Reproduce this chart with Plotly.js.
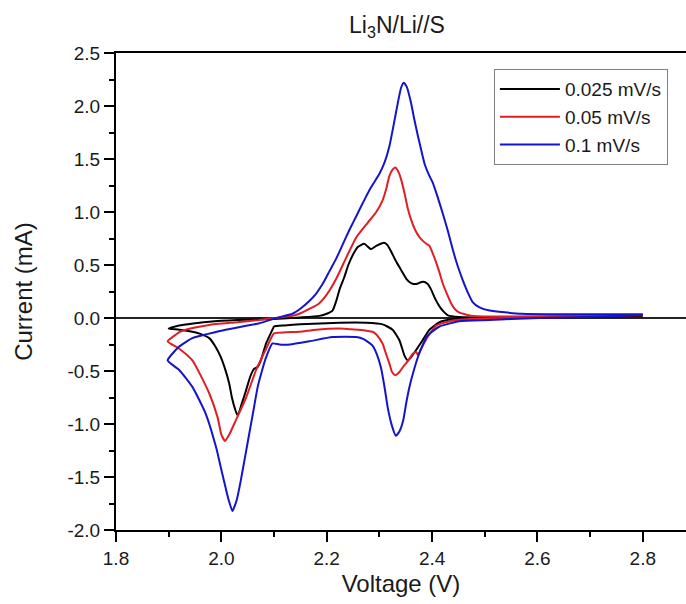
<!DOCTYPE html>
<html>
<head>
<meta charset="utf-8">
<script src="https://cdn.plot.ly/plotly-3.0.1.min.js"></script>
<style>html,body{margin:0;padding:0;overflow:hidden;background:#fff}</style>
</head>
<body>
<div id="chart" style="width:686px;height:604px"></div>
<script>
// Series names
const seriesNames = ["0.025 mV/s", "0.05 mV/s", "0.1 mV/s"];

// 0.025 mV/s : cathodic sweep (2.8 -> 1.9) followed by anodic sweep (1.9 -> 2.8)
const v025 = [2.80,2.70,2.60,2.50,2.44,2.414,2.395,2.382,2.370,2.360,2.354,2.348,2.338,2.325,2.306,2.275,2.224,2.15,2.12,2.10,2.097,2.085,2.075,2.069,2.062,2.055,2.047,2.038,2.031,2.026,2.020,2.015,2.007,1.999,1.99,1.977,1.96,1.945,1.92,1.90,
  1.92,1.95,1.977,2.03,2.10,2.15,2.186,2.20,2.211,2.218,2.225,2.233,2.241,2.249,2.259,2.271,2.284,2.294,2.309,2.315,2.322,2.330,2.338,2.345,2.351,2.360,2.370,2.380,2.386,2.392,2.398,2.405,2.414,2.422,2.430,2.452,2.50,2.60,2.70,2.80];
const i025 = [0.02,0.015,0.01,0.0,-0.01,-0.04,-0.11,-0.21,-0.30,-0.37,-0.40,-0.36,-0.21,-0.11,-0.06,-0.045,-0.045,-0.06,-0.07,-0.08,-0.11,-0.24,-0.40,-0.46,-0.48,-0.55,-0.68,-0.82,-0.92,-0.86,-0.75,-0.62,-0.48,-0.37,-0.28,-0.19,-0.15,-0.13,-0.11,-0.10,
  -0.07,-0.05,-0.035,-0.02,-0.01,0.005,0.02,0.04,0.07,0.16,0.28,0.38,0.50,0.59,0.67,0.70,0.65,0.68,0.71,0.69,0.63,0.55,0.48,0.42,0.37,0.33,0.32,0.34,0.34,0.32,0.27,0.19,0.11,0.06,0.025,0.01,0.005,0.01,0.015,0.02];

// 0.05 mV/s
const v05 = [2.80,2.70,2.60,2.53,2.47,2.433,2.408,2.398,2.389,2.378,2.373,2.370,2.363,2.355,2.345,2.338,2.330,2.324,2.319,2.312,2.306,2.295,2.287,2.26,2.243,2.224,2.18,2.148,2.122,2.10,2.085,2.066,2.047,2.027,2.015,2.007,2.00,1.993,1.977,1.945,1.92,1.898,
  1.91,1.921,1.95,1.977,2.03,2.07,2.10,2.135,2.148,2.167,2.186,2.20,2.218,2.237,2.256,2.278,2.294,2.306,2.313,2.319,2.325,2.330,2.336,2.341,2.348,2.354,2.36,2.367,2.375,2.382,2.389,2.395,2.402,2.408,2.414,2.420,2.428,2.436,2.444,2.452,2.477,2.55,2.65,2.80];
const i05 = [0.025,0.02,0.01,0.0,-0.01,-0.03,-0.07,-0.13,-0.20,-0.30,-0.35,-0.32,-0.34,-0.40,-0.46,-0.51,-0.54,-0.51,-0.43,-0.33,-0.24,-0.16,-0.13,-0.11,-0.105,-0.10,-0.11,-0.13,-0.135,-0.145,-0.29,-0.49,-0.75,-0.97,-1.10,-1.16,-1.10,-0.94,-0.71,-0.40,-0.29,-0.22,
  -0.17,-0.13,-0.09,-0.065,-0.04,-0.02,0.0,0.02,0.04,0.085,0.14,0.22,0.37,0.57,0.76,0.90,1.00,1.11,1.22,1.34,1.40,1.42,1.38,1.31,1.17,1.03,0.93,0.84,0.77,0.73,0.70,0.68,0.60,0.52,0.43,0.33,0.23,0.14,0.08,0.05,0.02,0.015,0.02,0.025];

// 0.1 mV/s
const v1 = [2.80,2.73,2.65,2.604,2.55,2.509,2.452,2.414,2.40,2.389,2.381,2.373,2.365,2.357,2.351,2.345,2.338,2.331,2.324,2.316,2.31,2.303,2.295,2.287,2.27,2.256,2.211,2.167,2.13,2.11,2.097,2.085,2.077,2.069,2.061,2.053,2.045,2.037,2.029,2.021,2.014,2.008,1.999,1.990,1.97,1.945,1.92,1.898,
  1.92,1.945,1.975,2.008,2.04,2.072,2.104,2.135,2.148,2.167,2.18,2.192,2.205,2.218,2.23,2.243,2.257,2.271,2.285,2.30,2.31,2.319,2.327,2.335,2.341,2.346,2.352,2.360,2.366,2.373,2.380,2.386,2.394,2.401,2.41,2.420,2.43,2.439,2.448,2.458,2.467,2.477,2.49,2.509,2.57,2.65,2.80];
const i1 = [0.03,0.015,0.005,0.0,-0.01,-0.02,-0.03,-0.08,-0.13,-0.18,-0.27,-0.37,-0.50,-0.65,-0.80,-0.97,-1.07,-1.11,-1.02,-0.85,-0.66,-0.47,-0.34,-0.26,-0.20,-0.18,-0.18,-0.22,-0.25,-0.25,-0.24,-0.37,-0.50,-0.65,-0.87,-1.09,-1.31,-1.53,-1.72,-1.82,-1.72,-1.60,-1.41,-1.22,-0.90,-0.65,-0.49,-0.40,
  -0.27,-0.19,-0.15,-0.11,-0.08,-0.05,0.0,0.04,0.08,0.16,0.23,0.32,0.44,0.56,0.69,0.83,0.97,1.11,1.24,1.36,1.47,1.62,1.82,2.03,2.17,2.22,2.18,2.03,1.88,1.72,1.57,1.45,1.35,1.28,1.15,0.99,0.82,0.65,0.50,0.36,0.25,0.15,0.10,0.07,0.04,0.035,0.035];

// Axis ticks
const xTicks = [1.8, 2.0, 2.2, 2.4, 2.6, 2.8];
const xTickText = ["1.8", "2.0", "2.2", "2.4", "2.6", "2.8"];
const yTicks = [-2.0, -1.5, -1.0, -0.5, 0.0, 0.5, 1.0, 1.5, 2.0, 2.5];
const yTickText = ["-2.0", "-1.5", "-1.0", "-0.5", "0.0", "0.5", "1.0", "1.5", "2.0", "2.5"];

const FONT = "Liberation Sans, Arial, sans-serif";
const colors = ["#000000", "#e01e24", "#1414cc"];
const xs = [v025, v05, v1];
const ys = [i025, i05, i1];

const traces = seriesNames.map((n, k) => ({
  x: xs[k], y: ys[k], name: n, type: "scatter", mode: "lines",
  line: {color: colors[k], width: 2, shape: "spline", smoothing: 0.5}
}));

const layout = {
  width: 686, height: 604,
  margin: {l: 116, r: 0, t: 53, b: 74},
  paper_bgcolor: "#fff", plot_bgcolor: "#fff",
  font: {family: FONT, color: "#1a1a1a", size: 19},
  title: {text: "Li<sub>3</sub>N/Li//S", font: {family: FONT, size: 23, color: "#1a1a1a"},
          xref: "paper", x: 0.493, xanchor: "center", yref: "container", y: 0.958, yanchor: "middle"},
  xaxis: {
    range: [1.8, 2.882], tickmode: "array", tickvals: xTicks, ticktext: xTickText,
    ticks: "outside", ticklen: 10, tickwidth: 2, tickcolor: "#000",
    minor: {tickmode: "linear", tick0: 1.8, dtick: 0.1, ticks: "outside", ticklen: 5, tickwidth: 2, tickcolor: "#000"},
    showline: true, linewidth: 2, linecolor: "#000", mirror: true,
    showgrid: false, zeroline: false,
    tickfont: {family: FONT, size: 19, color: "#1a1a1a"},
    title: {text: "Voltage (V)", font: {family: FONT, size: 24, color: "#1a1a1a"}, standoff: 7}
  },
  yaxis: {
    range: [-2.0, 2.5], tickmode: "array", tickvals: yTicks, ticktext: yTickText,
    ticks: "outside", ticklen: 10, tickwidth: 2, tickcolor: "#000",
    minor: {tickmode: "linear", tick0: 0, dtick: 0.25, ticks: "outside", ticklen: 5, tickwidth: 2, tickcolor: "#000"},
    showline: true, linewidth: 2, linecolor: "#000", mirror: false,
    showgrid: false, zeroline: true, zerolinecolor: "#222", zerolinewidth: 2,
    tickfont: {family: FONT, size: 19, color: "#1a1a1a"},
    title: {text: "Current (mA)", font: {family: FONT, size: 24, color: "#1a1a1a"}, standoff: 28}
  },
  legend: {
    x: 0.663, y: 0.966, xanchor: "left", yanchor: "top",
    bordercolor: "#808080", borderwidth: 1, bgcolor: "#fff",
    font: {family: FONT, size: 19, color: "#1a1a1a"},
    itemwidth: 60, tracegroupgap: 0
  },
  showlegend: true
};

Plotly.newPlot("chart", traces, layout, {displayModeBar: false, staticPlot: true});
</script>
</body>
</html>
